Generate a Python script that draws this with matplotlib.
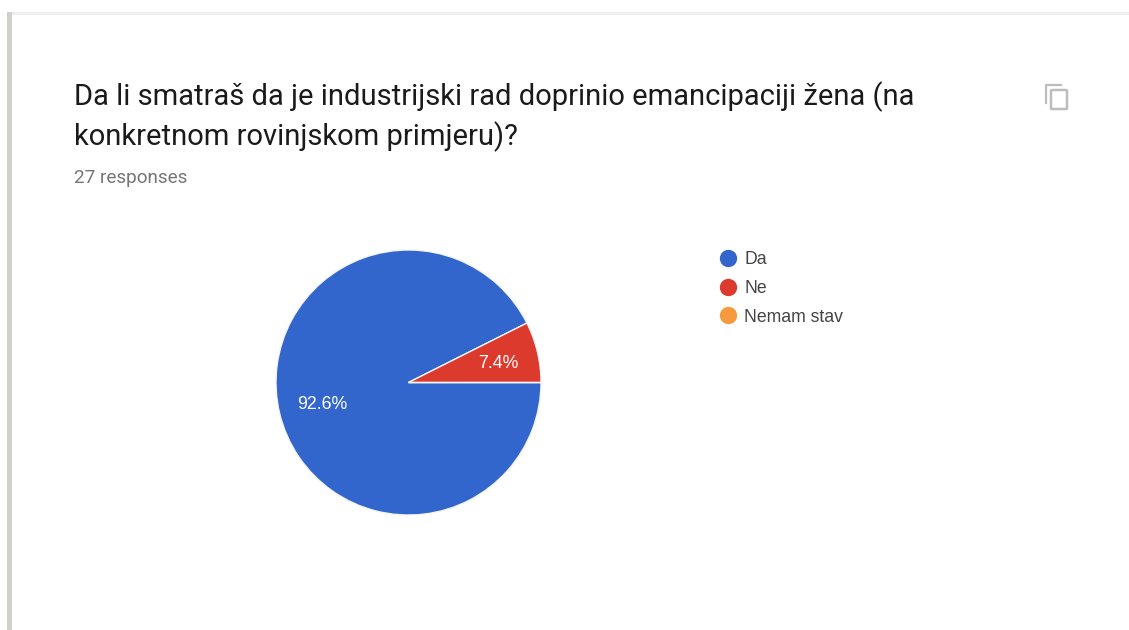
import matplotlib
matplotlib.use('Agg')
import matplotlib.pyplot as plt
from matplotlib.lines import Line2D
from matplotlib.patches import Rectangle, FancyBboxPatch

plt.rcParams['font.family'] = ['Roboto', 'DejaVu Sans']

W, H = 1129, 630

title_lines = ['Da li smatraš da je industrijski rad doprinio emancipaciji žena (na',
               'konkretnom rovinjskom primjeru)?']
subtitle = '27 responses'
categories = ['Da', 'Ne', 'Nemam stav']
responses = [25, 2, 0]
colors = ['#3366cc', '#dc3a2c', '#f79a3e']


def fx(px):
    return px / W


def fy(py):
    return 1 - py / H


fig = plt.figure(figsize=(W / 100, H / 100), dpi=100, facecolor='white')

# page edges
fig.add_artist(Rectangle((fx(12), fy(15)), fx(1117), 3 / H, transform=fig.transFigure,
                         fc='#eeeeee', ec='none'))
fig.add_artist(Rectangle((fx(7), 0), 5 / W, fy(12), transform=fig.transFigure,
                         fc='#d2d0ca', ec='none'))

# title
fig.text(fx(74), fy(96.5), title_lines[0], fontsize=21.0, color='#1a1a1a', va='center')
fig.text(fx(74), fy(136.5), title_lines[1], fontsize=21.0, color='#1a1a1a', va='center')
fig.text(fx(74), fy(178), subtitle, fontsize=13.6, color='#757575', va='center')

# copy icon
fig.add_artist(Line2D([fx(1046), fx(1046), fx(1061)], [fy(103), fy(85), fy(85)],
                      transform=fig.transFigure, color='#bdbdbd', lw=1.6))
fig.add_artist(FancyBboxPatch((fx(1051), fy(109)), 16 / W, 19 / H, transform=fig.transFigure,
                              boxstyle='round,pad=0,rounding_size=0.001',
                              fc='none', ec='#bdbdbd', lw=1.8))

# pie
R = 132.5
ax = fig.add_axes([fx(408.5 - R), fy(382.5 + R), 2 * R / W, 2 * R / H])
wedges, texts, autotexts = ax.pie(
    responses, colors=colors, startangle=0, counterclock=False, radius=1,
    autopct=lambda p: f'{p:.1f}%' if p > 0 else '', pctdistance=0.68,
    wedgeprops={'edgecolor': '#f4f4f4', 'linewidth': 1.0},
    textprops={'color': 'white', 'fontsize': 12.8, 'family': 'Liberation Sans'})
ax.set_xlim(-1, 1)
ax.set_ylim(-1, 1)
autotexts[0].set_position((autotexts[0].get_position()[0] + 0.01, autotexts[0].get_position()[1] - 0.01))
autotexts[1].set_position((autotexts[1].get_position()[0] + 0.015, autotexts[1].get_position()[1] - 0.01))

# legend
handles = [Line2D([], [], marker='o', linestyle='none', markersize=12.5,
                  markerfacecolor=c, markeredgecolor='none') for c in colors]
leg = fig.legend(handles, categories, loc='upper left',
                 bbox_to_anchor=(fx(694), fy(235)), frameon=False,
                 prop={'family': 'Liberation Sans', 'size': 12.7},
                 labelspacing=0.67, handletextpad=-0.05, labelcolor='#444444')

fig.savefig('out.png', dpi=100)
